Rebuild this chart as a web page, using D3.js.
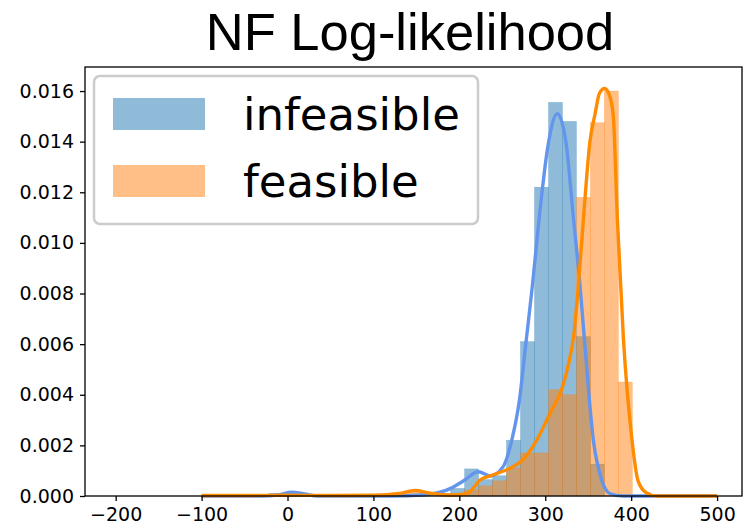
<!DOCTYPE html>
<html><head><meta charset="utf-8">
<script src="https://cdn.jsdelivr.net/npm/d3@7"></script>
<style>body{margin:0;background:#fff}</style>
</head><body>
<svg id="c" width="744" height="532"></svg>
<script>
// ---------- data ----------
const title = "NF Log-likelihood";
const seriesNames = ["infeasible", "feasible"];
const binEdges = [-103.0, -86.7, -70.5, -54.2, -37.9, -21.7, -5.4, 10.9, 27.2, 43.4, 59.7, 76.0,
  92.2, 108.5, 124.8, 141.1, 157.3, 173.6, 189.9, 206.1, 222.4, 238.7, 254.9, 271.2, 287.5,
  303.8, 320.0, 336.3, 352.6, 368.8, 385.1, 401.4];
const infeasibleHist = [0, 0, 0, 0, 0, 0.0001, 0.00015, 0.00005, 0, 0, 0, 0, 0, 0, 0, 0, 0,
  0.0001, 0.0003, 0.00107, 0.00065, 0.0008, 0.0022, 0.0061, 0.0122, 0.01555, 0.0148, 0.0063, 0.00126, 0, 0];
const feasibleHist = [0, 0, 0, 0, 0, 0, 0, 0, 0, 0, 0, 0, 0, 0, 0.0001, 0.0002, 0.00005, 0,
  0.0001, 0.00024, 0.0004, 0.0006, 0.0011, 0.0017, 0.0017, 0.0042, 0.0040, 0.0118, 0.01475, 0.0160, 0.0045];
const infeasibleKdeX = [-100, -30, -10, 5, 20, 35, 120, 160, 190, 205, 222, 236, 251, 261, 270, 277, 285, 293, 303, 314, 324, 333, 340, 346, 356, 366, 375, 390, 500];
const infeasibleKdeY = [0, 0, 0.00005, 0.00015, 0.00008, 0, 0, 0.00005, 0.0003, 0.0006, 0.00096, 0.00079, 0.00116, 0.0022, 0.0038, 0.0059, 0.0083, 0.011, 0.0138, 0.0151, 0.0140, 0.0109, 0.0085, 0.0060, 0.0022, 0.0006, 0.0001, 0, 0];
const feasibleKdeX = [-100, -50, 0, 50, 100, 130, 148, 165, 180, 195, 209, 216, 224, 239, 259, 273, 290, 306, 320, 327, 333, 339, 345, 352, 358, 363, 369, 374, 379, 384, 391, 401, 408, 418, 430, 500];
const feasibleKdeY = [0.00002, 0.00002, 0.00003, 0.00002, 0.00003, 0.0001, 0.00022, 0.00012, 0.00005, 0.00004, 0.0001, 0.0003, 0.00063, 0.00083, 0.0011, 0.0014, 0.0022, 0.0033, 0.0043, 0.0052, 0.0063, 0.0085, 0.0112, 0.0140, 0.0151, 0.0159, 0.0161, 0.0159, 0.0151, 0.0109, 0.0062, 0.0022, 0.0006, 0.00012, 0, 0];
const xTicks = [-200, -100, 0, 100, 200, 300, 400, 500];
const yTicks = [0, 0.002, 0.004, 0.006, 0.008, 0.010, 0.012, 0.014, 0.016];

// ---------- layout ----------
const L = 85, R = 742, T = 67, B = 496;
const svg = d3.select("#c");
const x = d3.scaleLinear().domain([-235.7, 529]).range([L, R]);
const y = d3.scaleLinear().domain([0, 0.01695]).range([B, T]);

const histFill = ["rgba(31,119,180,0.5)", "rgba(255,127,14,0.5)"];
const lineCol = ["#6495ED", "#FF8C00"];

function drawHist(vals, i) {
  svg.append("g").selectAll("rect")
    .data(vals.map((v, k) => ({v, x0: binEdges[k], x1: binEdges[k + 1]})).filter(d => d.v > 0))
    .join("rect")
    .attr("x", d => x(d.x0))
    .attr("width", d => x(d.x1) - x(d.x0))
    .attr("y", d => y(d.v))
    .attr("height", d => y(0) - y(d.v))
    .attr("fill", histFill[i])
    .attr("stroke", histFill[i])
    .attr("stroke-width", 0.4);
}
drawHist(infeasibleHist, 0);
drawHist(feasibleHist, 1);

const line = d3.line().x(d => x(d[0])).y(d => y(d[1])).curve(d3.curveMonotoneX);
svg.append("path").attr("d", line(infeasibleKdeX.map((v, k) => [v, infeasibleKdeY[k]])))
  .attr("fill", "none").attr("stroke", lineCol[0]).attr("stroke-width", 3.4);
svg.append("path").attr("d", line(feasibleKdeX.map((v, k) => [v, feasibleKdeY[k]])))
  .attr("fill", "none").attr("stroke", lineCol[1]).attr("stroke-width", 3.4);

// spines
svg.append("rect").attr("x", L).attr("y", T).attr("width", R - L).attr("height", B - T)
  .attr("fill", "none").attr("stroke", "#000").attr("stroke-width", 1.3);

// axes
const fontTick = "DejaVu Sans, sans-serif";
const xa = svg.append("g").attr("transform", `translate(0,${B})`)
  .call(d3.axisBottom(x).tickValues(xTicks).tickSize(5).tickPadding(7).tickFormat(d3.format("d")));
const ya = svg.append("g").attr("transform", `translate(${L},0)`)
  .call(d3.axisLeft(y).tickValues(yTicks).tickSize(5).tickPadding(6).tickFormat(d3.format(".3f")));
[xa, ya].forEach(a => {
  a.select(".domain").remove();
  a.selectAll(".tick line").attr("stroke", "#000").attr("stroke-width", 1.3);
  a.selectAll(".tick text").attr("fill", "#000").style("font-family", fontTick).style("font-size", "19px");
});

// legend
const lg = svg.append("g");
lg.append("rect").attr("x", 94).attr("y", 76).attr("width", 384).attr("height", 148).attr("rx", 6)
  .attr("fill", "rgba(255,255,255,0.8)").attr("stroke", "#cccccc").attr("stroke-width", 2.5);
seriesNames.forEach((n, i) => {
  lg.append("rect").attr("x", 113).attr("y", 98 + i * 67).attr("width", 92).attr("height", 32)
    .attr("fill", histFill[i]);
  lg.append("text").attr("x", 243).attr("y", 130 + i * 67).text(n)
    .style("font-family", fontTick).style("font-size", "45px").attr("fill", "#000");
});

// title
svg.append("text").attr("x", 410).attr("y", 50).attr("text-anchor", "middle").text(title)
  .style("font-family", "Liberation Sans, Arial, sans-serif").style("font-size", "52.5px").attr("fill", "#000");
</script>
</body></html>
